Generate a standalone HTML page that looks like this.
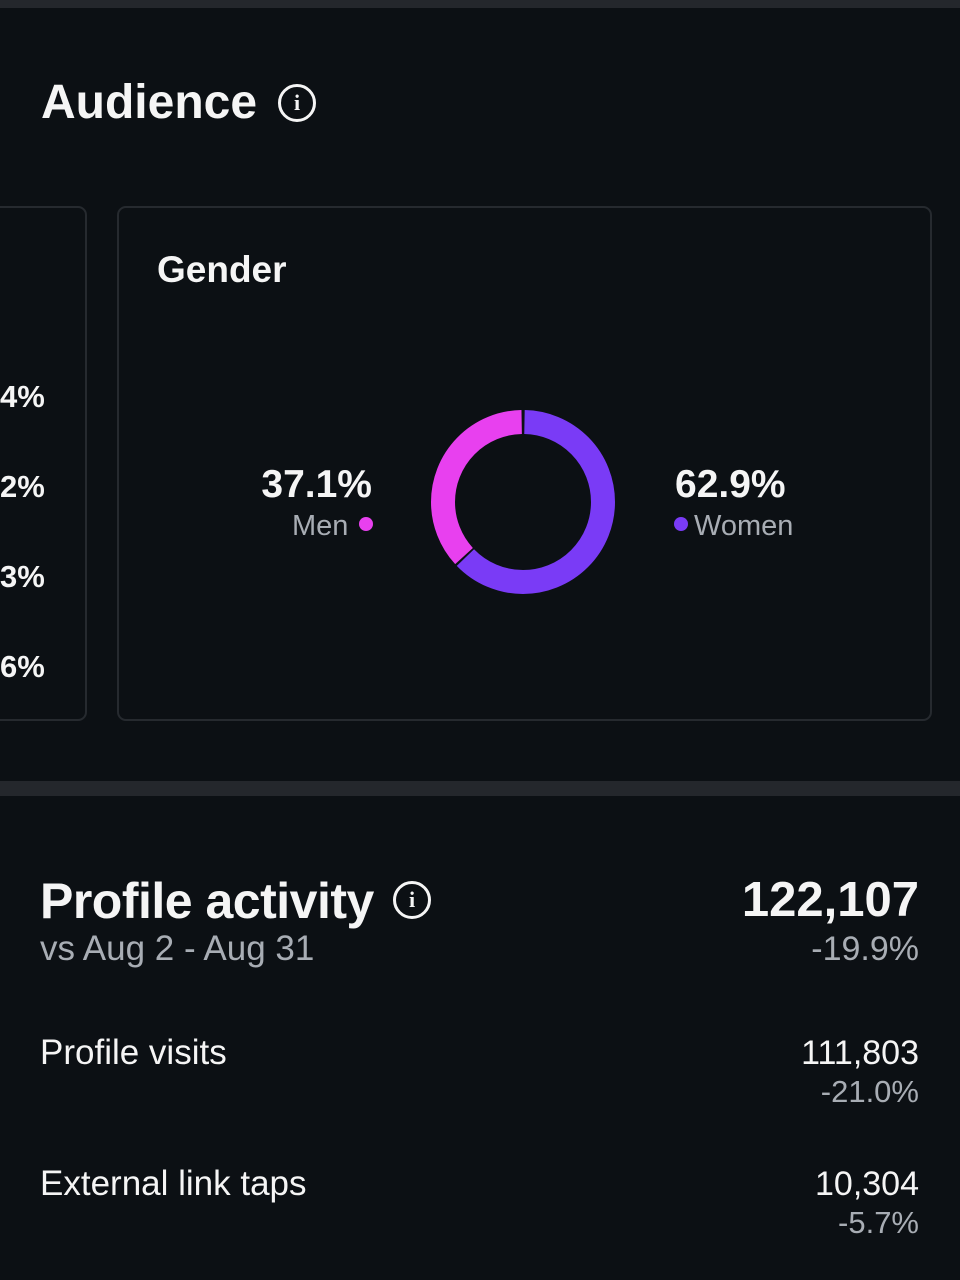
<!DOCTYPE html>
<html><head><meta charset="utf-8"><style>
*{margin:0;padding:0;box-sizing:border-box}
body{width:960px;height:1280px;background:#0c1014;position:relative;overflow:hidden;font-family:"Liberation Sans",sans-serif;color:#f5f5f5}
.a{position:absolute;white-space:nowrap;line-height:1}
.b{font-weight:bold}
.g{color:#a8adb4}
.r{text-align:right}
.info{position:absolute;border:3.5px solid #f5f5f5;border-radius:50%;display:flex;align-items:center;justify-content:center;font-family:"Liberation Serif",serif;font-weight:bold}
</style></head><body>
<div class="a" style="left:0;top:0;width:960px;height:8px;background:#24272c"></div>
<div class="a b" style="left:41px;top:79px;font-size:48px">Audience</div>
<div class="info" style="left:278px;top:84px;width:38px;height:38px;font-size:22px">i</div>

<div class="a" style="left:-20px;top:206px;width:107px;height:515px;border:2px solid #262a2f;border-radius:9px"></div>
<div class="a b" style="left:0;top:381px;font-size:31px">4%</div>
<div class="a b" style="left:0;top:471px;font-size:31px">2%</div>
<div class="a b" style="left:0;top:561px;font-size:31px">3%</div>
<div class="a b" style="left:0;top:651px;font-size:31px">6%</div>

<div class="a" style="left:117px;top:206px;width:815px;height:515px;border:2px solid #262a2f;border-radius:9px"></div>
<div class="a b" style="left:157px;top:251px;font-size:37px">Gender</div>

<svg class="a" style="left:423px;top:402px" width="200" height="200" viewBox="0 0 200 200">
<g transform="rotate(-90 100 100)">
<circle cx="100" cy="100" r="80" fill="none" stroke="#7a3bf6" stroke-width="24" stroke-dasharray="314 500" stroke-dashoffset="-1.5"/>
<circle cx="100" cy="100" r="80" fill="none" stroke="#e840ef" stroke-width="24" stroke-dasharray="183.6 500" stroke-dashoffset="-317.5"/>
</g>
</svg>

<div class="a b r" style="left:200px;width:172px;top:465px;font-size:39px">37.1%</div>
<div class="a g" style="left:292px;top:512px;font-size:29px">Men</div>
<div class="a" style="left:359px;top:517px;width:14px;height:14px;border-radius:50%;background:#e840ef"></div>
<div class="a b" style="left:675px;top:465px;font-size:39px">62.9%</div>
<div class="a" style="left:674px;top:517px;width:14px;height:14px;border-radius:50%;background:#7a3bf6"></div>
<div class="a g" style="left:694px;top:512px;font-size:29px">Women</div>

<div class="a" style="left:0;top:781px;width:960px;height:15px;background:#24272c"></div>

<div class="a b" style="left:40px;top:876px;font-size:50px;letter-spacing:-0.5px">Profile activity</div>
<div class="info" style="left:393px;top:881px;width:38px;height:38px;font-size:22px">i</div>
<div class="a g" style="left:40px;top:931px;font-size:35px">vs Aug 2 - Aug 31</div>
<div class="a b r" style="left:600px;width:319px;top:876px;font-size:49px">122,107</div>
<div class="a g r" style="left:600px;width:319px;top:932px;font-size:34px">-19.9%</div>

<div class="a" style="left:40px;top:1035px;font-size:35px">Profile visits</div>
<div class="a r" style="left:600px;width:319px;top:1036px;font-size:34px">111,803</div>
<div class="a g r" style="left:600px;width:319px;top:1076px;font-size:31px">-21.0%</div>

<div class="a" style="left:40px;top:1166px;font-size:35px">External link taps</div>
<div class="a r" style="left:600px;width:319px;top:1167px;font-size:34px">10,304</div>
<div class="a g r" style="left:600px;width:319px;top:1207px;font-size:31px">-5.7%</div>
</body></html>
